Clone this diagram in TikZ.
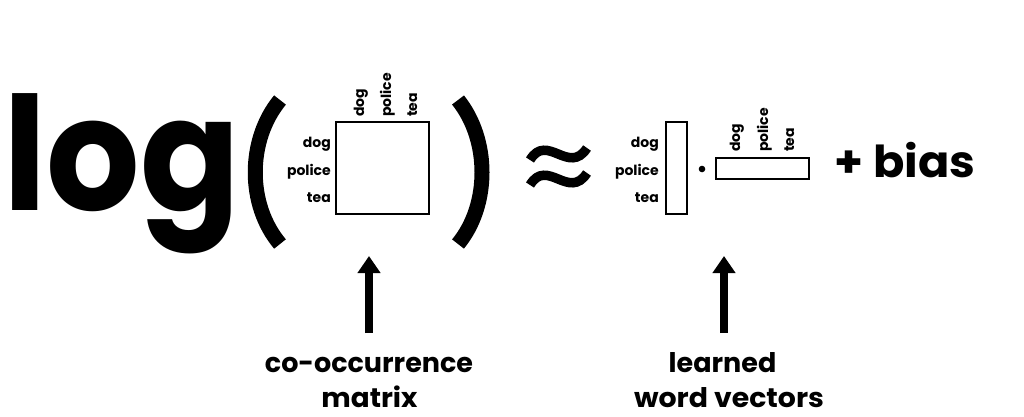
\documentclass[tikz,border=0pt]{standalone}
\usepackage{fontspec}
\usepackage{graphicx}
\setmainfont{Poppins}
\usetikzlibrary{arrows.meta}
\tikzset{
  lab/.style={font=\fontsize{14}{14}\selectfont\bfseries, inner sep=0pt},
  big/.style={font=\fontsize{27}{27}\selectfont\bfseries, inner sep=0pt},
  boxline/.style={draw=black, line width=2pt, inner sep=0pt},
  paren/.style={line width=15pt},
  wave/.style={line width=9.5pt},
  arr/.style={line width=7.5pt, -{Triangle[width=22pt,length=17pt]}}
}
\begin{document}
\begin{tikzpicture}[x=1pt,y=-1pt]
\useasboundingbox[fill=white] (0,0) rectangle (1024,416);
% log
\node[anchor=base west, inner sep=0pt, font=\fontsize{158}{158}\selectfont\bfseries] (log) at (3,210) {\scalebox{0.93}[1]{log}};
% parentheses
\draw[paren] (280,100) .. controls (247,140) and (247,205) .. (280,244);
\draw[paren] (458,100) .. controls (490,140) and (490,205) .. (458,244);
% co-occurrence matrix
\node[boxline, minimum width=93pt, minimum height=92pt] (M) at (382.5,168) {};
\node[lab, anchor=base east] (r1) at (331,147) {dog};
\node[lab, anchor=base east] (r2) at (331,175) {police};
\node[lab, anchor=base east] (r3) at (331,202) {tea};
\node[lab, anchor=base west, rotate=90] (c1) at (364,117) {dog};
\node[lab, anchor=base west, rotate=90] (c2) at (391,117) {police};
\node[lab, anchor=base west, rotate=90] (c3) at (417,117) {tea};
% approx
\draw[wave] (530,160) .. controls (547,132) and (569,176) .. (587,148);
\draw[wave] (530,185) .. controls (547,157) and (569,201) .. (587,173);
% word vectors
\node[lab, anchor=base east] (v1) at (659,147) {dog};
\node[lab, anchor=base east] (v2) at (659,175) {police};
\node[lab, anchor=base east] (v3) at (659,202) {tea};
\node[boxline, minimum width=21pt, minimum height=92pt] (W) at (676.5,168) {};
\fill (702,169) circle (3.3pt);
\node[boxline, minimum width=93pt, minimum height=21pt] (C) at (762.5,168.5) {};
\node[lab, anchor=base west, rotate=90] (w1) at (740,152) {dog};
\node[lab, anchor=base west, rotate=90] (w2) at (768,152) {police};
\node[lab, anchor=base west, rotate=90] (w3) at (794,152) {tea};
% + bias
\node[font=\fontsize{44}{44}\selectfont\bfseries, inner sep=0pt, anchor=base west] (bias) at (834,177) {\scalebox{1.05}[1]{+ bias}};
% arrows
\coordinate (a1s) at (369,333);
\coordinate (a1e) at (369,256);
\coordinate (a2s) at (724,333);
\coordinate (a2e) at (724,256);
\draw[arr] (a1s) -- (a1e);
\draw[arr] (a2s) -- (a2e);
% labels
\node[big, anchor=base] (l1a) at (369,372) {co-occurrence};
\node[big, anchor=base] (l1b) at (369.5,407) {\scalebox{1.03}[1]{matrix}};
\node[big, anchor=base] (l2a) at (722.5,372) {learned};
\node[big, anchor=base] (l2b) at (729,407) {\scalebox{1.05}[1]{word vectors}};
\end{tikzpicture}
\end{document}
